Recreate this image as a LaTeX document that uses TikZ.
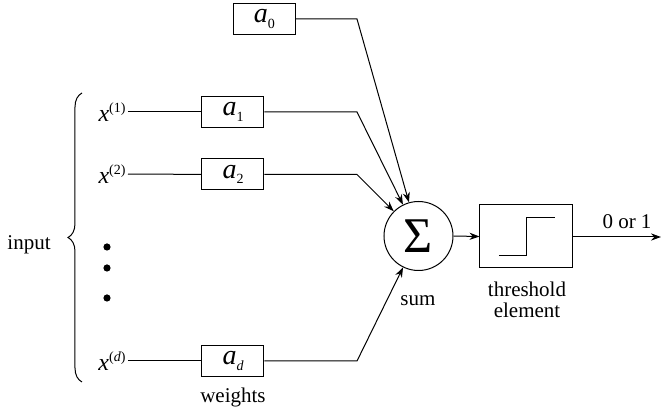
\documentclass[tikz,border=0pt]{standalone}
\usepackage{fontspec}
\setmainfont{Liberation Serif}
\usetikzlibrary{arrows.meta,decorations.pathreplacing}
\begin{document}
\begin{tikzpicture}[x=0.5pt,y=-0.5pt,
  line width=0.5pt,
  wbox/.style={draw,minimum width=31pt,minimum height=15.5pt,inner sep=0pt,font=\fontsize{14}{16}\selectfont},
  lbl/.style={inner sep=0pt,font=\fontsize{10.5}{12}\selectfont},
  xin/.style={inner sep=1pt,font=\fontsize{12}{14}\selectfont},
  arr/.style={-{Stealth[length=5pt,width=3.6pt]}},
  dotc/.style={fill,circle,inner sep=0pt,minimum size=3.6pt}]
\useasboundingbox (0,0) rectangle (661,411);
% weight boxes
\node[wbox] (a0) at (264.5,19) {\textit{a}\raisebox{-0.45ex}{\fontsize{7}{8}\selectfont 0}};
\node[wbox] (a1) at (233,112) {\textit{a}\raisebox{-0.45ex}{\fontsize{7}{8}\selectfont 1}};
\node[wbox] (a2) at (233,174.5) {\textit{a}\raisebox{-0.45ex}{\fontsize{7}{8}\selectfont 2}};
\node[wbox] (ad) at (233,361) {\textit{a}\raisebox{-0.45ex}{\fontsize{7}{8}\selectfont\itshape d}};
% inputs
\node[xin,anchor=east] (x1) at (128,112) {\textit{x}\raisebox{0.8ex}{\fontsize{7}{8}\selectfont (1)}};
\node[xin,anchor=east] (x2) at (128,174) {\textit{x}\raisebox{0.8ex}{\fontsize{7}{8}\selectfont (2)}};
\node[xin,anchor=east] (xd) at (128,361) {\textit{x}\raisebox{0.8ex}{\fontsize{7}{8}\selectfont (\textit{d})}};
\node[dotc] (d1) at (107,247) {};
\node[dotc] (d2) at (107,268) {};
\node[dotc] (d3) at (107,298) {};
% brace and input label
\coordinate (bb) at (82,382);
\coordinate (bt) at (82,93);
\draw[decorate,decoration={brace,amplitude=7pt}] (bb) -- (bt);
\node[lbl] (inp) at (29,245) {input};
% sum
\node[draw,circle,minimum size=34.5pt,inner sep=0pt,font=\fontsize{25}{28}\selectfont] (sum) at (418.5,236) {Σ};
\node[lbl] (sumt) at (418,301) {sum};
% threshold
\node[draw,minimum width=46.5pt,minimum height=31.5pt,inner sep=0pt] (th) at (526.5,236.5) {};
\coordinate (s1) at (499,256);
\coordinate (s2) at (527,256);
\coordinate (s3) at (527,218);
\coordinate (s4) at (555,218);
\draw (s1) -- (s2) -- (s3) -- (s4);
\node[lbl,align=center] (tht) at (527,300) {threshold\\[-1.5pt]element};
\node[lbl] (wt) at (233,397) {weights};
% corners
\coordinate (c0) at (357,19);
\coordinate (c1) at (357,112);
\coordinate (c2) at (357,174.5);
\coordinate (cd) at (357,361);
\coordinate (out) at (661,237);
% connectors
\draw (x1) -- (a1);
\draw (x2) -- (a2);
\draw (xd) -- (ad);
\draw[arr] (a0) -- (c0) -- (sum);
\draw[arr] (a1) -- (c1) -- (sum);
\draw[arr] (a2) -- (c2) -- (sum);
\draw[arr] (ad) -- (cd) -- (sum);
\draw[arr] (sum.east) -- (th.west);
\draw[arr] (th.east |- out) -- (out);
\node[lbl] (o) at (627,222) {0 or 1};
\end{tikzpicture}
\end{document}
